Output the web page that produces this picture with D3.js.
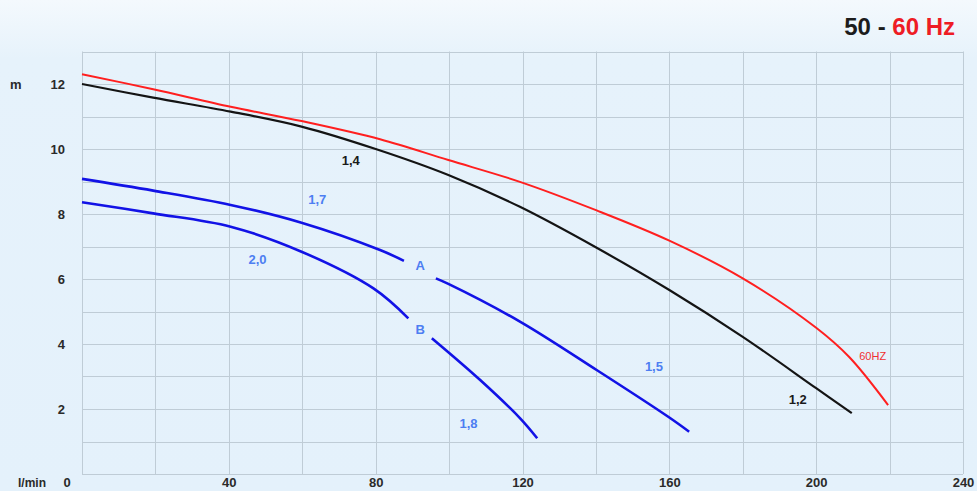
<!DOCTYPE html>
<html><head><meta charset="utf-8">
<script src="https://cdn.jsdelivr.net/npm/d3@7/dist/d3.min.js"></script>
<style>html,body{margin:0;padding:0;background:#e6f2fb;}svg{display:block;}</style>
</head><body>
<svg id="c" width="977" height="491"></svg>
<script>
// ---- data (flow l/min, head m) ----
const xTickLabels = [0, 40, 80, 120, 160, 200, 240];
const yTickLabels = [2, 4, 6, 8, 10, 12];
const curve60Hz = [[0,12.3],[19.4,11.84],[40.5,11.30],[59.8,10.86],[81.2,10.3],[99.8,9.66],[119.3,8.99],[140.2,8.11],[160,7.18],[180,6.02],[200,4.5],[209,3.6],[219.6,2.12]];
const curve50Hz = [[0,12.0],[19.4,11.58],[40.5,11.15],[59.8,10.69],[80,10.0],[99.8,9.2],[119.3,8.22],[140.2,6.96],[160,5.66],[180,4.22],[200,2.64],[209.7,1.87]];
const curveA1 = [[0,9.08],[19.4,8.72],[40.5,8.28],[59.8,7.73],[81.2,6.89],[87.7,6.56]];
const curveA2 = [[96.4,6.02],[99.8,5.85],[119.3,4.69],[140.2,3.2],[159.7,1.76],[165.4,1.30]];
const curveB1 = [[0,8.36],[19.4,8.02],[40.5,7.61],[59.8,6.84],[79.4,5.71],[88.9,4.79]];
const curveB2 = [[95.3,4.18],[108.4,2.9],[119.3,1.72],[124.0,1.10]];
const labels = [
  {t:"1,4", x:73.2, y:9.66, k:"black"},
  {t:"1,7", x:64.1, y:8.46, k:"blue"},
  {t:"2,0", x:47.8, y:6.61, k:"blue"},
  {t:"A", x:92.1, y:6.43, k:"blue"},
  {t:"B", x:92.1, y:4.46, k:"blue"},
  {t:"1,5", x:155.8, y:3.32, k:"blue"},
  {t:"1,8", x:105.3, y:1.56, k:"blue"},
  {t:"1,2", x:195.0, y:2.28, k:"black"},
  {t:"60HZ", x:215.4, y:3.62, k:"red"}
];

// ---- layout ----
const svg = d3.select("#c");
const W = 977, H = 491;
const L = 82, R = 963, T = 51.5, B = 474;
const x = d3.scaleLinear().domain([0,240]).range([L,R]);
const y = d3.scaleLinear().domain([0,13]).range([B,T]);

const defs = svg.append("defs");
const g1 = defs.append("linearGradient").attr("id","bg").attr("x1",0).attr("y1",0).attr("x2",0).attr("y2",1);
g1.append("stop").attr("offset","0").attr("stop-color","#f4f9fd");
g1.append("stop").attr("offset","0.12").attr("stop-color","#e6f2fb");
g1.append("stop").attr("offset","1").attr("stop-color","#e4f1fb");
svg.append("rect").attr("width",W).attr("height",H).attr("fill","url(#bg)");

const font = "'Liberation Sans', Arial, Helvetica, sans-serif";

// grid
const grid = svg.append("g").attr("stroke","#bfccd6").attr("stroke-width",1);
grid.selectAll("line.v").data(d3.range(0,241,20)).join("line")
  .attr("x1",d=>Math.round(x(d))+0.5).attr("x2",d=>Math.round(x(d))+0.5)
  .attr("y1",T).attr("y2",B);
grid.selectAll("line.h").data(d3.range(0,14,1)).join("line")
  .attr("y1",d=>Math.round(y(d))+0.5).attr("y2",d=>Math.round(y(d))+0.5)
  .attr("x1",L).attr("x2",R);

// axes (text only)
const yAxis = d3.axisLeft(y).tickValues(yTickLabels).tickSize(0).tickPadding(17).tickFormat(d3.format("d"));
const ya = svg.append("g").attr("transform",`translate(${L},0)`).call(yAxis);
ya.select(".domain").remove();
ya.selectAll("text").attr("font-family",font).attr("font-size",13).attr("font-weight","bold").attr("fill","#2a2a2a");

const xAxis = d3.axisBottom(x).tickValues(xTickLabels.filter(d=>d>0)).tickSize(0).tickPadding(0).tickFormat(d3.format("d"));
const xa = svg.append("g").attr("transform",`translate(0,${B})`).call(xAxis);
xa.select(".domain").remove();
xa.selectAll("text").attr("font-family",font).attr("font-size",13).attr("font-weight","bold").attr("fill","#2a2a2a")
  .attr("dy",null).attr("y",13);

svg.append("text").attr("x",x(0)-15).attr("y",B+13).attr("text-anchor","middle")
  .attr("font-family",font).attr("font-size",13).attr("font-weight","bold").attr("fill","#2a2a2a").text(xTickLabels[0]);
svg.append("text").attr("x",18).attr("y",B+13)
  .attr("font-family",font).attr("font-size",12).attr("font-weight","bold").attr("fill","#2a2a2a").text("l/min");
svg.append("text").attr("x",10).attr("y",y(12)+5)
  .attr("font-family",font).attr("font-size",13).attr("font-weight","bold").attr("fill","#2a2a2a").text("m");

// curves
const line = d3.line().x(d=>x(d[0])).y(d=>y(d[1])).curve(d3.curveCatmullRom.alpha(0.5));
const series = [
  {d:curve60Hz, c:"#ff1f1f", w:2},
  {d:curve50Hz, c:"#141414", w:2.2},
  {d:curveA1, c:"#1212e6", w:2.6},
  {d:curveA2, c:"#1212e6", w:2.6},
  {d:curveB1, c:"#1212e6", w:2.6},
  {d:curveB2, c:"#1212e6", w:2.6}
];
svg.append("g").selectAll("path").data(series).join("path")
  .attr("d",s=>line(s.d)).attr("fill","none").attr("stroke",s=>s.c).attr("stroke-width",s=>s.w)
  .attr("stroke-linecap","butt");

// labels
const lc = {black:"#1a1a1a", blue:"#4d7ef2", red:"#f03030"};
svg.append("g").selectAll("text").data(labels).join("text")
  .attr("x",d=>x(d.x)).attr("y",d=>y(d.y)).attr("text-anchor","middle").attr("dominant-baseline","central")
  .attr("font-family",font).attr("font-size",d=>d.k==="red"?11:13).attr("font-weight",d=>d.k==="red"?"normal":"bold")
  .attr("fill",d=>lc[d.k]).text(d=>d.t);

// title
const title = svg.append("text").attr("x",955).attr("y",35).attr("text-anchor","end")
  .attr("font-family",font).attr("font-size",24).attr("font-weight","bold");
title.append("tspan").attr("fill","#1c1c1c").text("50 - ");
title.append("tspan").attr("fill","#ee1c25").text("60 Hz");
</script>
</body></html>
